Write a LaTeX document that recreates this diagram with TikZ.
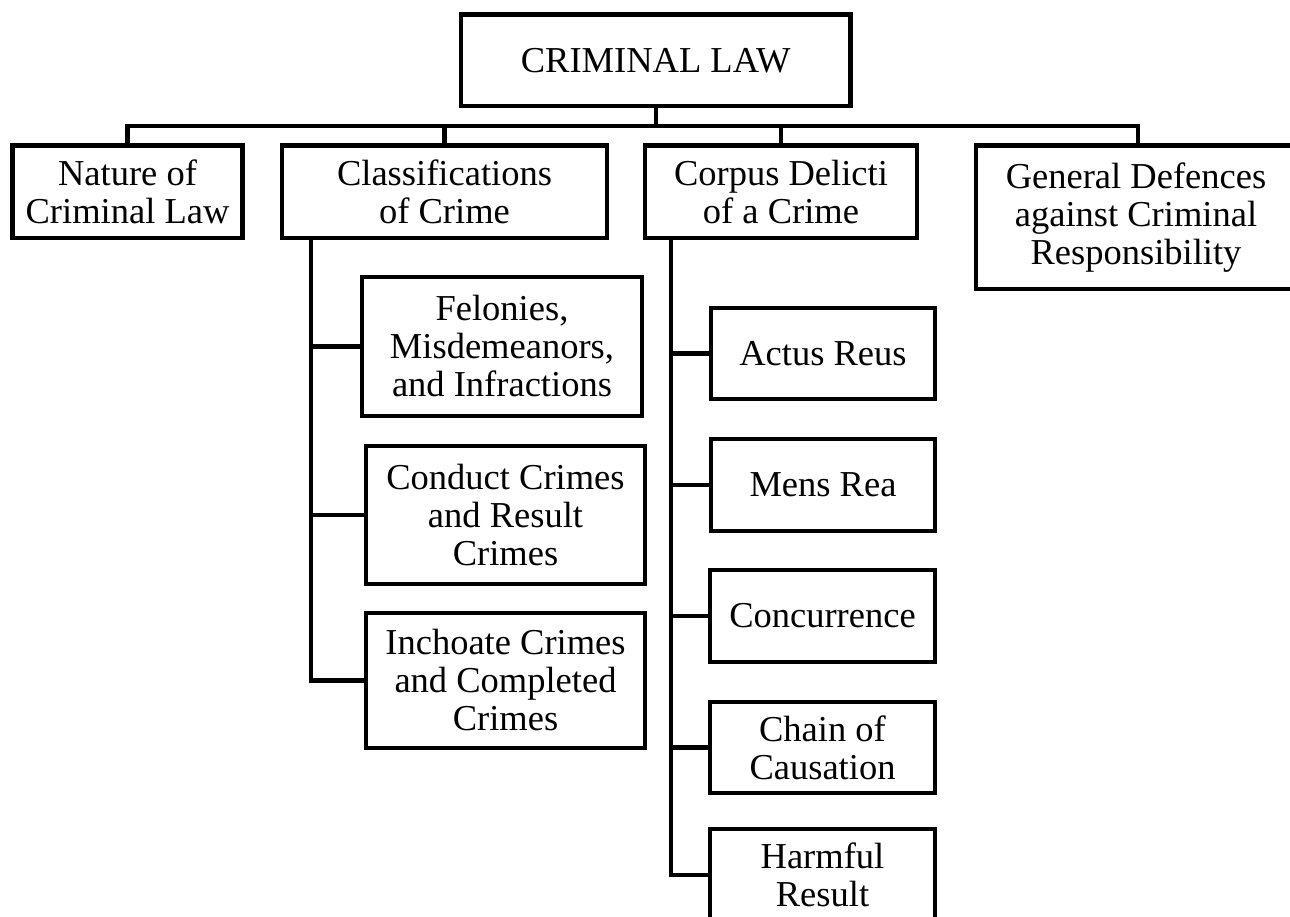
\documentclass[tikz,border=0pt]{standalone}
\usepackage{fontspec}
\setmainfont{Liberation Serif}
\begin{document}
\begin{tikzpicture}[x=1pt,y=-1pt,
  box/.style={draw=black, line width=4.5pt, rectangle, align=center, inner sep=0pt,
    font=\fontsize{36.5}{38}\selectfont, line join=miter},
  conn/.style={draw=black, line width=4.5pt, line join=miter}]
\useasboundingbox (0,0) rectangle (1290,917);
\clip (0,0) rectangle (1290,917);
\fill[white] (0,0) rectangle (1290,917);

% top
\node[box, minimum width=389.5pt, minimum height=91.5pt] (top) at (655.75,60.25) {CRIMINAL LAW};

% level 1
\node[box, minimum width=230pt, minimum height=92.5pt] (nature) at (127.5,191.75) {Nature of\\Criminal Law};
\node[box, minimum width=325pt, minimum height=92.5pt] (classif) at (444.5,191.75) {Classifications\\of Crime};
\node[box, minimum width=272pt, minimum height=92.5pt] (corpus) at (781,191.75) {Corpus Delicti\\of a Crime};
\node[box, minimum width=320pt, minimum height=143.5pt] (general) at (1136,217.25) {General Defences\\against Criminal\\Responsibility};

% classifications children
\node[box, minimum width=280pt, minimum height=139pt] (fel) at (502,346.5) {Felonies,\\Misdemeanors,\\and Infractions};
\node[box, minimum width=279pt, minimum height=138pt] (cond) at (505.5,515) {Conduct Crimes\\and Result\\Crimes};
\node[box, minimum width=279pt, minimum height=135pt] (inch) at (505.5,680.5) {Inchoate Crimes\\and Completed\\Crimes};

% corpus children
\node[box, minimum width=224pt, minimum height=91pt] (actus) at (823,353.5) {Actus Reus};
\node[box, minimum width=224pt, minimum height=92pt] (mens) at (823,485) {Mens Rea};
\node[box, minimum width=225pt, minimum height=92pt] (concur) at (822.5,616) {Concurrence};
\node[box, minimum width=225pt, minimum height=91pt] (chain) at (822.5,747.5) {Chain of\\Causation};
\node[box, minimum width=225pt, minimum height=92pt] (harm) at (822.5,875) {Harmful\\Result};

% bus
\coordinate (bus) at (655.75,126);
\draw[conn] (top.south) -- (top.south |- bus);
\draw[conn] (nature.north) -- (nature.north |- bus) -- ([xshift=2pt]general.north |- bus) -- ([xshift=2pt]general.north);
\draw[conn] (classif.north) -- (classif.north |- bus);
\draw[conn] (corpus.north) -- (corpus.north |- bus);

% classifications spine
\coordinate (cspine) at ([xshift=31pt]classif.south west);
\draw[conn] (cspine) |- (inch.west);
\draw[conn] (cspine |- fel.west) -- (fel.west);
\draw[conn] (cspine |- cond.west) -- (cond.west);

% corpus spine
\coordinate (kspine) at ([xshift=28pt]corpus.south west);
\draw[conn] (kspine) |- (harm.west);
\draw[conn] (kspine |- actus.west) -- (actus.west);
\draw[conn] (kspine |- mens.west) -- (mens.west);
\draw[conn] (kspine |- concur.west) -- (concur.west);
\draw[conn] (kspine |- chain.west) -- (chain.west);
\end{tikzpicture}
\end{document}
